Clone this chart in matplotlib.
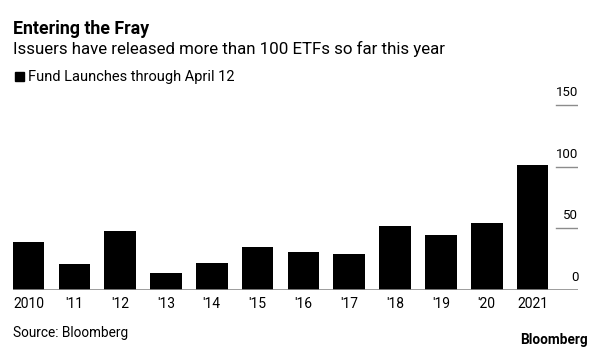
import matplotlib.pyplot as plt

plt.rcParams['font.family'] = ['Roboto', 'DejaVu Sans']

# Data
years = ['2010', "'11", "'12", "'13", "'14", "'15", "'16", "'17", "'18", "'19", "'20", '2021']
launches = [39, 21, 48, 14, 22, 35, 31, 29, 52, 45, 54, 101]
yticks = [0, 50, 100, 150]

fig = plt.figure(figsize=(6, 3.52), dpi=100)
ax = fig.add_axes([0.0212, 0.176, 0.9427, 0.54])

x = range(len(years))
ax.bar(x, launches, width=0.69, color='black', zorder=2)
ax.set_xlim(-0.345, 12.0)
ax.set_ylim(0, 154)

# baseline and short right-hand gridline stubs
ax.axhline(0, color='#8c8c8c', lw=1.2, zorder=3)
for v in yticks[1:]:
    ax.axhline(v, xmin=0.96, xmax=1, color='#8c8c8c', lw=1)
for v in yticks:
    ax.text(1.0, v + 10, str(v), transform=ax.get_yaxis_transform(),
            ha='right', va='center', fontsize=9.5)

for s in ax.spines.values():
    s.set_visible(False)
ax.set_yticks([])
ax.set_xticks(list(x))
ax.set_xticklabels(years, fontsize=10)
ax.tick_params(axis='x', length=0, pad=5)

fig.text(0.021, 0.917, 'Entering the Fray', fontsize=12.8, fontweight='bold', va='center')
fig.text(0.021, 0.86, 'Issuers have released more than 100 ETFs so far this year',
         fontsize=12.2, va='center')
fig.patches.append(plt.Rectangle((0.025, 0.77), 0.015, 0.0256, transform=fig.transFigure,
                                 color='black', figure=fig))
fig.text(0.047, 0.781, 'Fund Launches through April 12', fontsize=10.5, va='center')
fig.text(0.021, 0.054, 'Source: Bloomberg', fontsize=9.8, va='center')
fig.text(0.979, 0.034, 'Bloomberg', fontsize=9.8, fontweight='bold', ha='right', va='center')

fig.savefig('out.png', dpi=100)
